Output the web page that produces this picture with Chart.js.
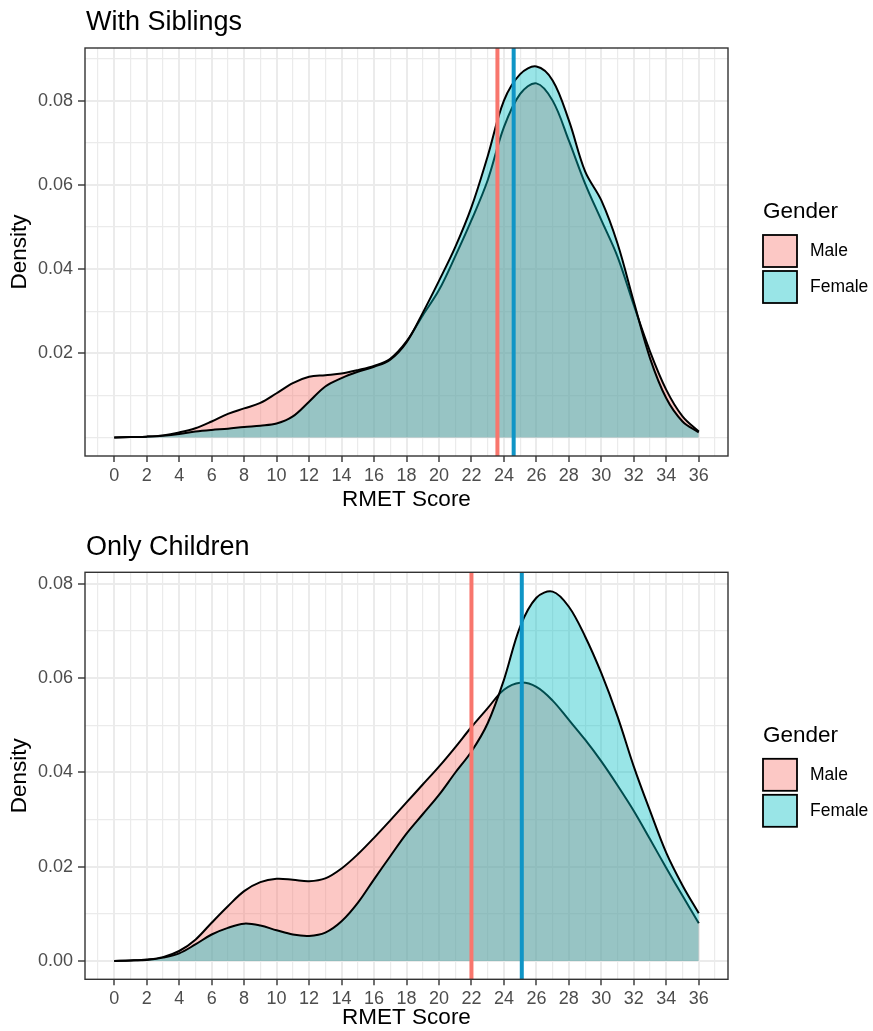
<!DOCTYPE html>
<html>
<head>
<meta charset="utf-8">
<script src="https://cdn.jsdelivr.net/npm/chart.js@4.4.1/dist/chart.umd.min.js"></script>
<style>
html,body{margin:0;padding:0;background:#ffffff;}
#wrap{position:relative;width:873px;height:1031px;background:#fff;}
canvas{position:absolute;left:0;}
#c1{top:0;}
#c2{top:515px;}
</style>
</head>
<body>
<div id="wrap">
<canvas id="c1" width="873" height="515"></canvas>
<canvas id="c2" width="873" height="516"></canvas>
</div>
<script>
// ---------- DATA ----------
const scores = [0,1,2,3,4,5,6,7,8,9,10,11,12,13,14,15,16,17,18,19,20,21,22,23,24,25,26,27,28,29,30,31,32,33,34,35,36];
const xTickLabels = [0,2,4,6,8,10,12,14,16,18,20,22,24,26,28,30,32,34,36];
const genders = ['Male','Female'];
const panelTitles = ['With Siblings','Only Children'];

// With Siblings
const sibMale = [0.0000,0.0001,0.0002,0.0005,0.0012,0.0022,0.0038,0.0056,0.0069,0.0082,0.0105,0.0129,0.0144,0.0148,0.0152,0.0160,0.0170,0.0187,0.0228,0.0290,0.0350,0.0430,0.0516,0.0611,0.0737,0.0816,0.0841,0.0800,0.0705,0.0603,0.0516,0.0429,0.0314,0.0204,0.0113,0.0050,0.0014];
const sibFemale = [0.0000,0.0001,0.0002,0.0004,0.0008,0.0014,0.0018,0.0021,0.0025,0.0028,0.0033,0.0050,0.0085,0.0121,0.0141,0.0156,0.0168,0.0185,0.0226,0.0296,0.0372,0.0452,0.0547,0.0668,0.0800,0.0863,0.0881,0.0848,0.0753,0.0632,0.0563,0.0460,0.0322,0.0188,0.0093,0.0038,0.0012];
const sibMeans = [23.6, 24.6];
const sibYLabels = [0.02,0.04,0.06,0.08];

// Only Children
const onlyMale = [0.0000,0.0001,0.0003,0.0008,0.0021,0.0045,0.0081,0.0116,0.0148,0.0167,0.0174,0.0172,0.0169,0.0175,0.0196,0.0226,0.0261,0.0298,0.0336,0.0374,0.0412,0.0453,0.0496,0.0536,0.0575,0.0590,0.0581,0.0552,0.0511,0.0469,0.0423,0.0372,0.0318,0.0258,0.0197,0.0138,0.0080];
const onlyFemale = [0.0000,0.0001,0.0002,0.0007,0.0016,0.0035,0.0056,0.0070,0.0079,0.0075,0.0065,0.0056,0.0053,0.0060,0.0084,0.0123,0.0173,0.0222,0.0270,0.0311,0.0352,0.0399,0.0444,0.0504,0.0596,0.0709,0.0770,0.0783,0.0751,0.0688,0.0610,0.0518,0.0412,0.0318,0.0229,0.0160,0.0101];
const onlyMeans = [22.0, 25.1];
const onlyYLabels = [0.00,0.02,0.04,0.06,0.08];

// ---------- STYLE ----------
const FONT = '"Liberation Sans", Arial, sans-serif';
const fillColors = ['rgba(248,118,109,0.4)','rgba(0,191,196,0.4)'];
const meanColors = ['#F8766D','#0F95C6'];

const decor = {
  id: 'decor',
  afterDraw(chart, args, opts) {
    const {ctx, chartArea: a} = chart;
    ctx.save();
    ctx.strokeStyle = '#333333';
    ctx.lineWidth = 1.4;
    ctx.strokeRect(a.left, a.top, a.right - a.left, a.bottom - a.top);
    ctx.fillStyle = '#000';
    ctx.textAlign = 'left';
    ctx.textBaseline = 'alphabetic';
    ctx.font = '27px ' + FONT;
    ctx.fillText(opts.title, 86, opts.titleY);
    const c = (a.top + a.bottom) / 2;
    const lx = 763;
    ctx.font = '22.5px ' + FONT;
    ctx.fillText('Gender', lx, c - 34);
    genders.forEach((g, i) => {
      const y = c - 17 + i * 36;
      ctx.fillStyle = '#ffffff';
      ctx.fillRect(lx, y, 34, 32);
      ctx.fillStyle = fillColors[i];
      ctx.fillRect(lx, y, 34, 32);
      ctx.strokeStyle = '#000';
      ctx.lineWidth = 1.8;
      ctx.strokeRect(lx, y, 34, 32);
      ctx.fillStyle = '#000';
      ctx.font = '17.5px ' + FONT;
      ctx.textBaseline = 'middle';
      ctx.fillText(g, 810, y + 16);
      ctx.textBaseline = 'alphabetic';
    });
    ctx.restore();
  }
};

function isIn(list, v) { return list.some(t => Math.abs(t - v) < 1e-9); }

function makeChart(canvasId, cfg) {
  const densityDs = (vals, i, order) => ({
    label: genders[i],
    data: scores.map((x, k) => ({x: x, y: vals[k]})),
    borderColor: '#000000',
    borderWidth: 2,
    backgroundColor: fillColors[i],
    fill: 'origin',
    pointRadius: 0,
    tension: 0.35,
    order: order
  });
  const meanDs = (m, i, order) => ({
    label: genders[i] + ' mean',
    data: [{x: m, y: cfg.yMin}, {x: m, y: cfg.yMax}],
    borderColor: meanColors[i],
    borderWidth: 4,
    pointRadius: 0,
    fill: false,
    order: order
  });
  return new Chart(document.getElementById(canvasId), {
    type: 'line',
    data: {
      datasets: [
        densityDs(cfg.male, 0, 3),
        densityDs(cfg.female, 1, 2),
        meanDs(cfg.means[0], 0, 1),
        meanDs(cfg.means[1], 1, 0)
      ]
    },
    options: {
      responsive: false,
      animation: false,
      events: [],
      layout: {padding: {top: cfg.padTop, right: 145, left: 0, bottom: 0}},
      plugins: {
        legend: {display: false},
        tooltip: {enabled: false},
        decor: {title: cfg.title, titleY: cfg.titleY}
      },
      scales: {
        x: {
          type: 'linear',
          min: -1.8, max: 37.8,
          afterFit: s => { s.height = cfg.xH; },
          border: {display: false},
          grid: {
            color: '#EBEBEB',
            lineWidth: c => (c.tick && c.tick.value % 2 === 0) ? 2 : 1.2,
            drawTicks: true,
            tickLength: 6,
            tickWidth: 1.4,
            tickColor: c => (c.tick && isIn(xTickLabels, c.tick.value)) ? '#333333' : 'rgba(0,0,0,0)'
          },
          ticks: {
            stepSize: 1,
            includeBounds: false,
            autoSkip: false,
            maxRotation: 0,
            padding: 3,
            color: '#4D4D4D',
            font: {family: FONT, size: 18},
            callback: v => isIn(xTickLabels, v) ? String(v) : ''
          },
          title: {
            display: true,
            text: 'RMET Score',
            color: '#000',
            font: {family: FONT, size: 22.5},
            padding: {top: 0, bottom: cfg.xTitlePad}
          }
        },
        y: {
          type: 'linear',
          min: cfg.yMin, max: cfg.yMax,
          afterFit: s => { s.width = 85; },
          border: {display: false},
          grid: {
            color: '#EBEBEB',
            lineWidth: c => (c.tick && isIn(cfg.yLabels, c.tick.value)) ? 2 : 1.2,
            drawTicks: true,
            tickLength: 7,
            tickWidth: 1.4,
            tickColor: c => (c.tick && isIn(cfg.yLabels, c.tick.value)) ? '#333333' : 'rgba(0,0,0,0)'
          },
          ticks: {
            stepSize: 0.01,
            includeBounds: false,
            autoSkip: false,
            padding: 5,
            color: '#4D4D4D',
            font: {family: FONT, size: 18},
            callback: v => isIn(cfg.yLabels, v) ? v.toFixed(2) : ''
          },
          title: {
            display: true,
            text: 'Density',
            color: '#000',
            font: {family: FONT, size: 22.5},
            padding: {top: 6.5, bottom: 0}
          }
        }
      }
    },
    plugins: [decor]
  });
}

makeChart('c1', {
  male: sibMale, female: sibFemale, means: sibMeans, yLabels: sibYLabels,
  yMin: -0.0044, yMax: 0.0925,
  padTop: 48, xH: 59, xTitlePad: 2,
  title: panelTitles[0], titleY: 30
});
makeChart('c2', {
  male: onlyMale, female: onlyFemale, means: onlyMeans, yLabels: onlyYLabels,
  yMin: -0.0039, yMax: 0.0824,
  padTop: 57.3, xH: 51.7, xTitlePad: 0,
  title: panelTitles[1], titleY: 40
});
</script>
</body>
</html>
